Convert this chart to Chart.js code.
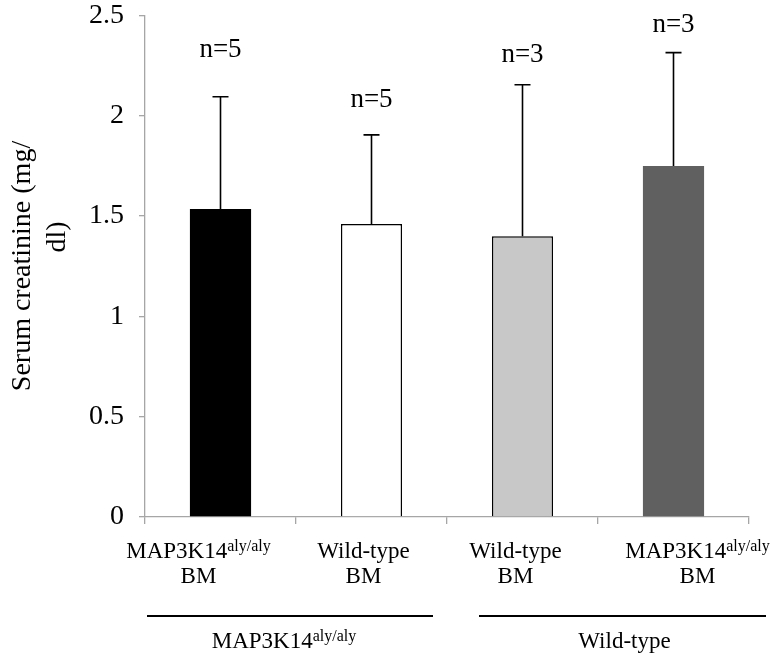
<!DOCTYPE html>
<html>
<head>
<meta charset="utf-8">
<script src="https://cdn.jsdelivr.net/npm/chart.js@4.4.0/dist/chart.umd.min.js"></script>
<style>
  html, body { margin: 0; padding: 0; background: #fff; }
</style>
</head>
<body>
<canvas id="creatChart" width="775" height="659"></canvas>
<script>
// chart data
const categoryMain = ['MAP3K14', 'Wild-type', 'Wild-type', 'MAP3K14'];
const categorySup = ['aly/aly', '', '', 'aly/aly'];
const categorySub = ['BM', 'BM', 'BM', 'BM'];
const meanCreatinine = [1.535, 1.46, 1.40, 1.75];
const sdCreatinine = [0.56, 0.445, 0.755, 0.565];
const sampleCounts = ['n=5', 'n=5', 'n=3', 'n=3'];
const countLabelLevel = [2.33, 2.08, 2.305, 2.455];
const recipientMain = ['MAP3K14', 'Wild-type'];
const recipientSup = ['aly/aly', ''];
const yTickValues = [0, 0.5, 1, 1.5, 2, 2.5];

const SERIF = '"Liberation Serif", "Times New Roman", serif';
const AXIS_GRAY = '#a6a6a6';

// draws "MAP3K14" + superscript centered on cx
function drawSupText(ctx, main, sup, cx, baseline) {
    ctx.font = '23px ' + SERIF;
    const w1 = ctx.measureText(main).width;
    ctx.font = '16px ' + SERIF;
    const w2 = sup ? ctx.measureText(sup).width : 0;
    const x0 = cx - (w1 + w2) / 2;
    ctx.textAlign = 'left';
    ctx.textBaseline = 'alphabetic';
    ctx.font = '23px ' + SERIF;
    ctx.fillText(main, x0, baseline);
    if (sup) {
        ctx.font = '16px ' + SERIF;
        ctx.fillText(sup, x0 + w1, baseline - 7);
    }
}

const decorPlugin = {
    id: 'decor',
    afterDatasetsDraw(chart) {
        const ctx = chart.ctx;
        const xs = chart.scales.x;
        const ys = chart.scales.y;
        const bars = chart.getDatasetMeta(0).data;
        ctx.save();
        ctx.fillStyle = '#000';
        ctx.strokeStyle = '#000';

        // error bars (upper only) and n labels
        bars.forEach((bar, i) => {
            const yTop = ys.getPixelForValue(meanCreatinine[i] + sdCreatinine[i]);
            ctx.lineWidth = 1.6;
            ctx.beginPath();
            ctx.moveTo(bar.x, bar.y);
            ctx.lineTo(bar.x, yTop);
            ctx.moveTo(bar.x - 8, yTop);
            ctx.lineTo(bar.x + 8, yTop);
            ctx.stroke();

            ctx.font = '27px ' + SERIF;
            ctx.textAlign = 'center';
            ctx.textBaseline = 'middle';
            ctx.fillText(sampleCounts[i], bar.x, ys.getPixelForValue(countLabelLevel[i]));
        });

        // category labels (slightly shifted like the original layout)
        const labelShift = [-22, -8, -7, 24];
        categoryMain.forEach((m, i) => {
            const cx = xs.getPixelForValue(i) + labelShift[i];
            drawSupText(ctx, m, categorySup[i], cx, 558);
            ctx.font = '23px ' + SERIF;
            ctx.textAlign = 'center';
            ctx.fillText(categorySub[i], cx, 583);
        });

        // recipient group lines and labels
        const step = xs.getPixelForValue(1) - xs.getPixelForValue(0);
        const b0 = xs.getPixelForValue(0) - step / 2;
        const b2 = xs.getPixelForValue(2) - step / 2;
        const b4 = xs.getPixelForValue(3) + step / 2;
        const spans = [[b0 + 2, b2 - 14], [b2 + 32, b4 + 17]];
        const groupShift = [-6, 2];
        ctx.lineWidth = 2;
        spans.forEach((s, g) => {
            ctx.beginPath();
            ctx.moveTo(s[0], 616);
            ctx.lineTo(s[1], 616);
            ctx.stroke();
            drawSupText(ctx, recipientMain[g], recipientSup[g], (s[0] + s[1]) / 2 + groupShift[g], 648);
        });

        // y axis title, two lines rotated
        ctx.font = '28px ' + SERIF;
        ctx.textAlign = 'center';
        ctx.textBaseline = 'middle';
        [['Serum creatinine (mg/', 23, 266], ['dl)', 58, 237]].forEach(([t, x, y]) => {
            ctx.save();
            ctx.translate(x, y);
            ctx.rotate(-Math.PI / 2);
            ctx.fillText(t, 0, 0);
            ctx.restore();
        });
        ctx.restore();
    }
};

const ctxMain = document.getElementById('creatChart').getContext('2d');
new Chart(ctxMain, {
    type: 'bar',
    data: {
        labels: categoryMain.map((m, i) => m + categorySup[i] + ' ' + categorySub[i]),
        datasets: [{
            data: meanCreatinine,
            backgroundColor: ['#000000', '#ffffff', '#c8c8c8', '#606060'],
            borderColor: '#000000',
            borderWidth: [0, 1.5, 1.5, 0],
            borderSkipped: 'bottom',
            barPercentage: 0.405,
            categoryPercentage: 1.0
        }]
    },
    options: {
        responsive: false,
        animation: false,
        layout: { padding: { top: 0, right: 26, left: 0, bottom: 0 } },
        plugins: { legend: { display: false }, tooltip: { enabled: false } },
        scales: {
            x: {
                offset: true,
                grid: { offset: true, drawOnChartArea: false, drawTicks: true, tickLength: 7, color: AXIS_GRAY, lineWidth: 1.3 },
                border: { color: AXIS_GRAY, width: 1.3 },
                ticks: { display: false },
                afterFit: (s) => { s.height = 142; }
            },
            y: {
                min: 0,
                max: 2.5,
                afterBuildTicks: (s) => { s.ticks = yTickValues.map(v => ({ value: v })); },
                grid: { drawOnChartArea: false, drawTicks: true, tickLength: 6, color: AXIS_GRAY, lineWidth: 1.3 },
                border: { color: AXIS_GRAY, width: 1.3 },
                ticks: { color: '#000', padding: 15, font: { family: SERIF, size: 28 }, callback: (v) => String(v) },
                afterFit: (s) => { s.width = 145; s.paddingTop = 15.5; s.paddingBottom = 0; }
            }
        }
    },
    plugins: [decorPlugin]
});
</script>
</body>
</html>
